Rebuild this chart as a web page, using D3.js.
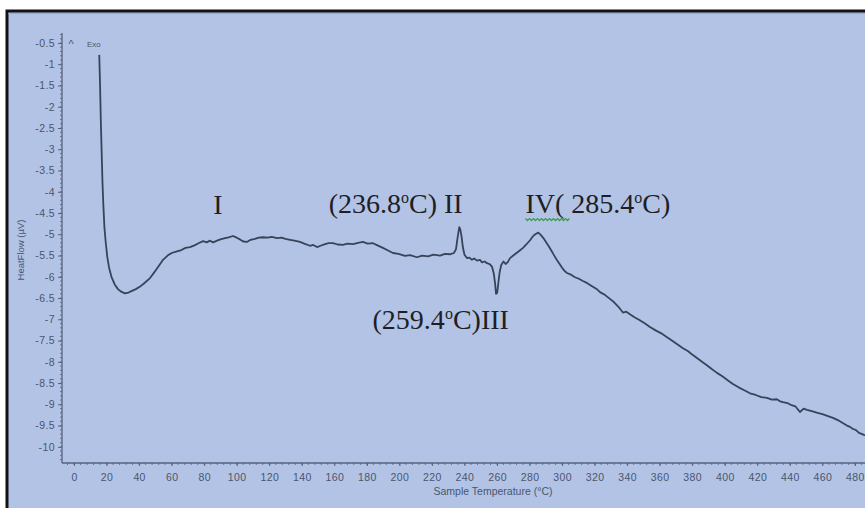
<!DOCTYPE html>
<html><head><meta charset="utf-8">
<script src="https://cdn.jsdelivr.net/npm/d3@7"></script>
<style>body{margin:0;background:#fff;}svg{display:block;}</style>
</head><body>
<svg id="c" width="865" height="508"></svg>
<script>
// ---- data ----
const temperature = [15.5,16.0,16.5,17.0,17.5,18.0,18.7,19.5,20.5,21.5,23.0,25.0,27.0,29.0,31.3,33.5,35.6,38.0,40.6,43.5,46.7,50.0,52.5,54.7,57.5,60.0,63.3,66.0,68.5,71.3,74.0,76.5,79.3,81.5,83.6,85.5,87.9,90.0,92.8,95.0,97.7,100.0,102.0,104.0,106.3,108.5,111.2,113.5,116.2,119.0,121.5,124.8,127.5,130.0,132.8,135.5,138.9,141.5,145.0,147.0,149.4,151.5,154.3,156.5,159.2,162.0,165.3,168.0,171.5,174.5,177.6,180.5,183.8,186.5,189.9,193.0,196.1,199.5,203.4,206.5,210.8,214.0,217.6,221.0,225.0,228.0,231.1,233.5,234.8,235.6,236.3,236.8,237.4,238.2,239.0,240.0,241.5,243.0,244.6,246.0,247.7,249.5,250.8,252.5,253.8,255.5,256.9,258.0,258.8,259.4,260.1,260.8,261.6,262.6,264.0,265.3,266.5,268.0,270.0,272.0,274.0,276.0,278.0,280.3,282.0,283.5,285.4,287.0,288.5,290.1,291.8,293.2,295.0,296.9,298.5,299.9,301.5,303.0,305.5,307.9,310.0,312.8,315.5,318.4,321.0,323.3,326.5,329.4,332.0,334.5,337.4,339.5,341.7,344.5,347.8,351.0,354.0,357.5,361.0,364.5,367.5,371.0,374.3,377.5,380.0,382.9,386.0,389.0,392.0,395.2,398.5,402.0,405.0,408.5,412.0,415.5,419.0,422.5,425.9,429.0,432.0,434.0,435.8,438.5,441.0,443.5,446.2,448.5,450.5,453.5,457.0,460.0,463.0,466.5,469.5,472.5,475.1,477.0,478.8,480.5,482.5,484.5,486.2];
const heatFlow = [-0.78,-1.5,-2.4,-3.1,-3.8,-4.3,-4.85,-5.2,-5.55,-5.78,-6.0,-6.18,-6.29,-6.35,-6.39,-6.37,-6.33,-6.29,-6.23,-6.14,-6.03,-5.86,-5.72,-5.60,-5.50,-5.44,-5.40,-5.37,-5.32,-5.30,-5.26,-5.21,-5.16,-5.19,-5.15,-5.19,-5.15,-5.12,-5.09,-5.07,-5.04,-5.08,-5.12,-5.17,-5.18,-5.13,-5.11,-5.08,-5.07,-5.08,-5.06,-5.09,-5.08,-5.11,-5.13,-5.15,-5.18,-5.22,-5.27,-5.25,-5.30,-5.27,-5.23,-5.21,-5.21,-5.24,-5.25,-5.22,-5.23,-5.20,-5.18,-5.22,-5.21,-5.26,-5.32,-5.38,-5.44,-5.46,-5.51,-5.49,-5.54,-5.50,-5.52,-5.48,-5.50,-5.46,-5.47,-5.44,-5.35,-5.12,-4.95,-4.83,-4.88,-5.05,-5.30,-5.48,-5.56,-5.55,-5.60,-5.57,-5.62,-5.60,-5.66,-5.64,-5.68,-5.70,-5.76,-5.92,-6.15,-6.40,-6.38,-6.15,-5.90,-5.72,-5.64,-5.70,-5.66,-5.56,-5.50,-5.44,-5.38,-5.32,-5.24,-5.14,-5.05,-5.00,-4.96,-5.02,-5.09,-5.18,-5.28,-5.37,-5.49,-5.61,-5.70,-5.78,-5.86,-5.91,-5.95,-6.01,-6.04,-6.10,-6.15,-6.22,-6.28,-6.36,-6.43,-6.52,-6.60,-6.70,-6.84,-6.82,-6.88,-6.95,-7.02,-7.10,-7.18,-7.26,-7.33,-7.42,-7.50,-7.59,-7.68,-7.75,-7.83,-7.91,-8.00,-8.08,-8.17,-8.26,-8.34,-8.44,-8.52,-8.60,-8.67,-8.74,-8.78,-8.83,-8.85,-8.89,-8.88,-8.93,-8.95,-8.97,-9.02,-9.05,-9.18,-9.10,-9.13,-9.16,-9.20,-9.23,-9.27,-9.32,-9.37,-9.44,-9.50,-9.53,-9.58,-9.60,-9.67,-9.70,-9.73];
const xTicks = [0,20,40,60,80,100,120,140,160,180,200,220,240,260,280,300,320,340,360,380,400,420,440,460,480];
const yTicks = [-0.5,-1,-1.5,-2,-2.5,-3,-3.5,-4,-4.5,-5,-5.5,-6,-6.5,-7,-7.5,-8,-8.5,-9,-9.5,-10];
const annotations = [
  {label:"I", t:88.5, v:-4.53, anchor:"middle"},
  {label:"(236.8|C) II", t:156.5, v:-4.5, anchor:"start"},
  {label:"(259.4|C)III", t:183.5, v:-7.22, anchor:"start"},
  {label:"IV( 285.4|C)", t:277.5, v:-4.5, anchor:"start"}
];

// ---- layout ----
const svg = d3.select("#c");
const W = 865, H = 508;
const pLeft = 62, pRight = 865, pTop = 33, pBottom = 463;
const x = d3.scaleLinear().domain([-7.4, 486.2]).range([pLeft, pRight]);
const y = d3.scaleLinear().domain([-0.265, -10.38]).range([pTop, pBottom]);

// background + frame
svg.append("rect").attr("x",7).attr("y",11).attr("width",W).attr("height",H)
  .attr("fill","#b2c3e5").attr("stroke","#111").attr("stroke-width",3);
svg.append("line").attr("x1",8).attr("x2",W).attr("y1",13.5).attr("y2",13.5)
  .attr("stroke","#9aa6d8").attr("stroke-width",1);

const axisColor = "#56627e", textColor = "#4a566f";
const tickFont = "Liberation Sans, Arial, sans-serif";

// Y axis
const yAxis = d3.axisLeft(y).tickValues(yTicks).tickSize(4).tickPadding(3)
  .tickFormat(d => String(d));
const gy = svg.append("g").attr("transform",`translate(${pLeft},0)`).call(yAxis);
gy.select(".domain").attr("stroke",axisColor).attr("stroke-width",1.3).attr("d",`M0,${pTop}V${pBottom}`);
gy.selectAll(".tick line").attr("stroke",axisColor);
gy.selectAll(".tick text").attr("fill",textColor).attr("font-size",10.5)
  .attr("font-family",tickFont).attr("letter-spacing",0.4);
const yMinor = d3.range(-0.3, -10.35, -0.1);
svg.append("g").selectAll("line").data(yMinor).join("line")
  .attr("x1",pLeft-2).attr("x2",pLeft).attr("y1",d=>y(d)).attr("y2",d=>y(d))
  .attr("stroke",axisColor).attr("stroke-width",0.8);

// X axis
const xAxis = d3.axisBottom(x).tickValues(xTicks).tickSize(3).tickPadding(8)
  .tickFormat(d => String(d));
const gx = svg.append("g").attr("transform",`translate(0,${pBottom})`).call(xAxis);
gx.select(".domain").attr("stroke",axisColor).attr("stroke-width",1.3).attr("d",`M${pLeft},0H${pRight}`);
gx.selectAll(".tick line").attr("stroke",axisColor);
gx.selectAll(".tick text").attr("fill",textColor).attr("font-size",10.5)
  .attr("font-family",tickFont).attr("letter-spacing",0.4);
const xMinor = d3.range(-4, 487, 4);
svg.append("g").selectAll("line").data(xMinor).join("line")
  .attr("x1",d=>x(d)).attr("x2",d=>x(d)).attr("y1",pBottom).attr("y2",pBottom+2)
  .attr("stroke",axisColor).attr("stroke-width",0.8);

// axis titles
svg.append("text").attr("x",493).attr("y",495).attr("text-anchor","middle")
  .attr("font-family",tickFont).attr("font-size",10.5).attr("fill",textColor)
  .text("Sample Temperature (°C)");
svg.append("text").attr("transform","translate(24,250) rotate(-90)").attr("text-anchor","middle")
  .attr("font-family",tickFont).attr("font-size",9.5).attr("fill",textColor)
  .text("HeatFlow (µV)");
svg.append("text").attr("x",71).attr("y",48).attr("text-anchor","middle")
  .attr("font-family",tickFont).attr("font-size",11).attr("fill",textColor).text("^");
svg.append("text").attr("x",87).attr("y",47)
  .attr("font-family",tickFont).attr("font-size",8).attr("fill",textColor).text("Exo");

// curve
const pts = temperature.map((t,i)=>[t, heatFlow[i]]);
svg.append("path").datum(pts)
  .attr("d", d3.line().x(d=>x(d[0])).y(d=>y(d[1])).curve(d3.curveLinear))
  .attr("fill","none").attr("stroke","#38435a").attr("stroke-width",1.8)
  .attr("stroke-linejoin","round");

// annotations
const annFont = "Liberation Serif, Times New Roman, serif";
annotations.forEach(a => {
  const t = svg.append("text").attr("x",x(a.t)).attr("y",y(a.v))
    .attr("text-anchor",a.anchor).attr("font-family",annFont)
    .attr("font-size",28).attr("fill","#1e1e24");
  const parts = a.label.split("|");
  if (parts.length === 1) { t.text(a.label); }
  else {
    t.append("tspan").text(parts[0]);
    t.append("tspan").attr("font-size",16).attr("dy",-10).text("o");
    t.append("tspan").attr("dy",10).text(parts[1]);
  }
  if (a.label.startsWith("IV(")) {
    const node = t.node();
    const x0 = node.getStartPositionOfChar(0).x;
    const x1 = node.getEndPositionOfChar(3).x;
    const yy = y(a.v) + 6;
    const zz = d3.range(x0, x1, 2).map((xx,i)=>[xx, yy + (i%2 ? 1.5 : -0.5)]);
    svg.append("path").attr("d", d3.line()(zz)).attr("fill","none")
      .attr("stroke","#3aa040").attr("stroke-width",1.2);
  }
});
</script>
</body></html>
